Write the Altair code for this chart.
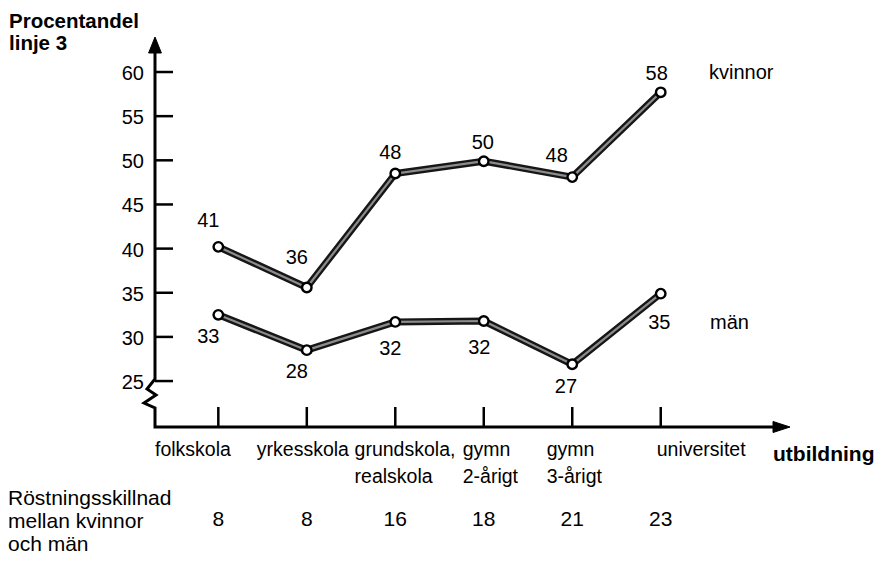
import altair as alt
import pandas as pd

# ---------------- data ----------------
categories = ["folkskola", "yrkesskola", "grundskola,\nrealskola",
              "gymn\n2-årigt", "gymn\n3-årigt", "universitet"]
kvinnor_label = [41, 36, 48, 50, 48, 58]
man_label = [33, 28, 32, 32, 27, 35]
# positions as drawn in the picture
kvinnor_plot = [40.2, 35.6, 48.5, 49.9, 48.1, 57.7]
man_plot = [32.5, 28.5, 31.7, 31.8, 26.9, 34.9]
skillnad = [8, 8, 16, 18, 21, 23]
y_ticks = [25, 30, 35, 40, 45, 50, 55, 60]
series_names = ["kvinnor", "män"]

# ---------------- styling / label offsets (px) ----------------
kv_dx = [-10, -10, -5, -1, -15.6, -4]
kv_dy = [-25.6, -29.4, -20.6, -17.7, -20.6, -18.4]
man_dx = [-10, -10, -5, -4.4, -6.3, -1.4]
man_dy = [22.3, 21.7, 27.6, 27, 22.7, 29]
cat_off = [-63.3, -50, -40.7, -21, -25.6, -4]

FONT = "Liberation Sans"
W, H = 868, 553
XD = [-2.377, 7.433]
YD = [4.62, 67.25]
PX = W / (XD[1] - XD[0])
PY = H / (YD[1] - YD[0])

xs = alt.Scale(domain=XD, nice=False, zero=False)
ys = alt.Scale(domain=YD, nice=False, zero=False)

rows = []
for i in range(len(categories)):
    rows.append(dict(i=i, series="kvinnor", v=kvinnor_plot[i], lab=str(kvinnor_label[i]),
                     dx=kv_dx[i], dy=kv_dy[i]))
for i in range(len(categories)):
    rows.append(dict(i=i, series="män", v=man_plot[i], lab=str(man_label[i]),
                     dx=man_dx[i], dy=man_dy[i]))
sdf = pd.DataFrame(rows)

base = alt.Chart(sdf)
X = alt.X("i:Q", scale=xs, axis=None)
Y = alt.Y("v:Q", scale=ys, axis=None)

line_outer = base.mark_line(stroke="#161616", strokeWidth=7, strokeJoin="round").encode(
    x=X, y=Y, detail="series:N")
line_inner = base.mark_line(stroke="#8c8c8c", strokeWidth=2.2, strokeJoin="round").encode(
    x=X, y=Y, detail="series:N")
points = base.mark_point(shape="circle", filled=True, fill="white", stroke="black",
                         strokeWidth=2.4, size=90, opacity=1).encode(x=X, y=Y)
labels = base.transform_calculate(
    lx=f"datum.i + datum.dx / {PX}", ly=f"datum.v - datum.dy / {PY}"
).mark_text(font=FONT, fontSize=20, color="black", align="center", baseline="middle").encode(
    x=alt.X("lx:Q", scale=xs, axis=None), y=alt.Y("ly:Q", scale=ys, axis=None), text="lab:N")

# axes (hand-drawn style)
tdf = pd.DataFrame({"t": y_ticks})
ytick_rules = alt.Chart(tdf).mark_rule(color="black", strokeWidth=2.5).encode(
    x=alt.value(147), x2=alt.value(165), y=alt.Y("t:Q", scale=ys, axis=None))
ytick_text = alt.Chart(tdf).mark_text(font=FONT, fontSize=20, align="right",
                                      baseline="middle", dy=2).encode(
    x=alt.value(136), y=alt.Y("t:Q", scale=ys, axis=None), text="t:N")

cdf = pd.DataFrame({"i": list(range(len(categories))), "c": categories, "off": cat_off,
                    "s": [str(s) for s in skillnad]})
xtick_rules = alt.Chart(cdf).mark_rule(color="black", strokeWidth=2.5).encode(
    x=alt.X("i:Q", scale=xs, axis=None), y=alt.value(419), y2=alt.value(399))
cat_text = alt.Chart(cdf).transform_calculate(lx=f"datum.i + datum.off / {PX}").mark_text(
    font=FONT, fontSize=19.5, align="left", baseline="top", lineBreak="\n", lineHeight=26.6).encode(
    x=alt.X("lx:Q", scale=xs, axis=None), y=alt.value(433.3), text="c:N")
diff_text = alt.Chart(cdf).mark_text(font=FONT, fontSize=21, align="center",
                                     baseline="middle").encode(
    x=alt.X("i:Q", scale=xs, axis=None), y=alt.value(512), text="s:N")

axis_path = pd.DataFrame({
    "px": [147, 147, 139, 148, 136, 147, 147, 775],
    "py": [44, 371, 381, 387, 395, 400, 419, 419],
    "k": list(range(8)),
})
axis_line = alt.Chart(axis_path).mark_line(color="black", strokeWidth=3, strokeJoin="miter").encode(
    x=alt.X("px:Q", scale=None), y=alt.Y("py:Q", scale=None), order="k:Q")

one = pd.DataFrame({"a": [0]})
y_arrow = alt.Chart(one).mark_point(shape="M0,-1L0.8,1L-0.8,1Z", filled=True, fill="black",
                                    stroke="black", strokeWidth=1, size=256, opacity=1).encode(
    x=alt.value(147), y=alt.value(37))
x_arrow = alt.Chart(one).mark_point(shape="M1,0L-1,0.65L-1,-0.65Z", filled=True, fill="black",
                                    stroke="black", strokeWidth=1, size=289, opacity=1).encode(
    x=alt.value(773.5), y=alt.value(419))

def txt(t, x, y, size=19, weight="normal", align="left", baseline="alphabetic", lh=22):
    return alt.Chart(pd.DataFrame({"t": [t]})).mark_text(
        font=FONT, fontSize=size, fontWeight=weight, align=align, baseline=baseline,
        lineBreak="\n", lineHeight=lh, color="black").encode(
        x=alt.value(x), y=alt.value(y), text="t:N")

title_y = txt("Procentandel\nlinje 3", 1, 20.3, size=20.5, weight="bold", lh=22)
title_x = txt("utbildning", 765, 453, size=21, weight="bold")
kv_name = txt(series_names[0], 701, 65.3, size=20, baseline="middle")
man_name = txt(series_names[1], 702, 315.3, size=20, baseline="middle")
bottom = txt("Röstningsskillnad\nmellan kvinnor\noch män", 0, 480, size=21,
             baseline="top", lh=23)

chart = alt.layer(
    axis_line, y_arrow, x_arrow, ytick_rules, ytick_text, xtick_rules, cat_text,
    line_outer, line_inner, points, labels, diff_text,
    title_y, title_x, kv_name, man_name, bottom,
).resolve_scale(x="independent", y="independent").properties(
    width=W, height=H, autosize=alt.AutoSizeParams(type="none"), padding=0,
    background="white",
).configure_view(stroke=None)

chart.save("out.html", embed_options={"renderer": "svg", "actions": False})
